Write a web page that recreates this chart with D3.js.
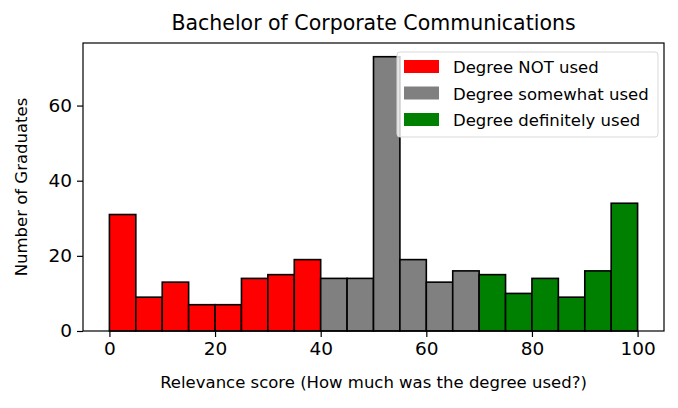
<!DOCTYPE html>
<html>
<head>
<meta charset="utf-8">
<script src="https://cdn.jsdelivr.net/npm/d3@7"></script>
<style>
  body { margin: 0; background: #fff; }
  svg { font-family: "DejaVu Sans", sans-serif; }
</style>
</head>
<body>
<div id="chart"></div>
<script>
// histogram bins (width 5) and counts
const binStarts = [0, 5, 10, 15, 20, 25, 30, 35, 40, 45, 50, 55, 60, 65, 70, 75, 80, 85, 90, 95];
const counts = [31, 9, 13, 7, 7, 14, 15, 19, 14, 14, 73, 19, 13, 16, 15, 10, 14, 9, 16, 34];
const binWidth = 5;
const groups = ["Degree NOT used", "Degree somewhat used", "Degree definitely used"];
const groupColors = ["#ff0000", "#808080", "#008000"];
const xTicks = [0, 20, 40, 60, 80, 100];
const yTicks = [0, 20, 40, 60];

function groupOf(start) {
  if (start < 40) return 0;
  if (start < 70) return 1;
  return 2;
}

var width = 678, height = 408;
var margin = {left: 83, right: 14, top: 43, bottom: 77};

var svg = d3.select("#chart").append("svg")
  .attr("width", width)
  .attr("height", height);

var x = d3.scaleLinear().domain([-5, 105]).range([margin.left, width - margin.right]);
var y = d3.scaleLinear().domain([0, 73 * 1.05]).range([height - margin.bottom, margin.top]);

// bars
svg.selectAll("rect.bar")
  .data(binStarts)
  .enter().append("rect")
  .attr("class", "bar")
  .attr("x", d => x(d))
  .attr("y", (d, i) => y(counts[i]))
  .attr("width", d => x(d + binWidth) - x(d))
  .attr("height", (d, i) => y(0) - y(counts[i]))
  .attr("fill", d => groupColors[groupOf(d)])
  .attr("stroke", "#000")
  .attr("stroke-width", 1.6);

// frame
svg.append("rect")
  .attr("x", margin.left).attr("y", margin.top)
  .attr("width", width - margin.left - margin.right)
  .attr("height", height - margin.top - margin.bottom)
  .attr("fill", "none").attr("stroke", "#000").attr("stroke-width", 1.2);

// axes
var xAxis = svg.append("g")
  .attr("transform", "translate(0," + (height - margin.bottom) + ")")
  .call(d3.axisBottom(x).tickValues(xTicks).tickSize(6).tickPadding(5));
var yAxis = svg.append("g")
  .attr("transform", "translate(" + margin.left + ",0)")
  .call(d3.axisLeft(y).tickValues(yTicks).tickSize(6).tickPadding(5));
[xAxis, yAxis].forEach(function(a) {
  a.select(".domain").remove();
  a.selectAll("line").attr("stroke", "#000").attr("stroke-width", 1.2);
  a.selectAll("text").attr("fill", "#000").style("font-size", "18.5px")
    .style("font-family", "DejaVu Sans");
});

// title and axis labels
svg.append("text")
  .attr("x", (margin.left + width - margin.right) / 2).attr("y", 30)
  .attr("text-anchor", "middle").style("font-size", "20.5px")
  .text("Bachelor of Corporate Communications");
svg.append("text")
  .attr("x", (margin.left + width - margin.right) / 2).attr("y", 388)
  .attr("text-anchor", "middle").style("font-size", "16.5px")
  .text("Relevance score (How much was the degree used?)");
svg.append("text")
  .attr("transform", "translate(27," + ((margin.top + height - margin.bottom) / 2) + ") rotate(-90)")
  .attr("text-anchor", "middle").style("font-size", "16.5px")
  .text("Number of Graduates");

// legend
var lg = svg.append("g").attr("transform", "translate(397,52)");
lg.append("rect")
  .attr("width", 261).attr("height", 85).attr("rx", 3)
  .attr("fill", "#fff").attr("fill-opacity", 0.8)
  .attr("stroke", "#d9d9d9");
groups.forEach(function(g, i) {
  lg.append("rect")
    .attr("x", 7).attr("y", 8 + i * 26.5)
    .attr("width", 35).attr("height", 13)
    .attr("fill", groupColors[i]);
  lg.append("text")
    .attr("x", 56).attr("y", 21 + i * 26.5)
    .style("font-size", "16.5px")
    .text(g);
});
</script>
</body>
</html>
